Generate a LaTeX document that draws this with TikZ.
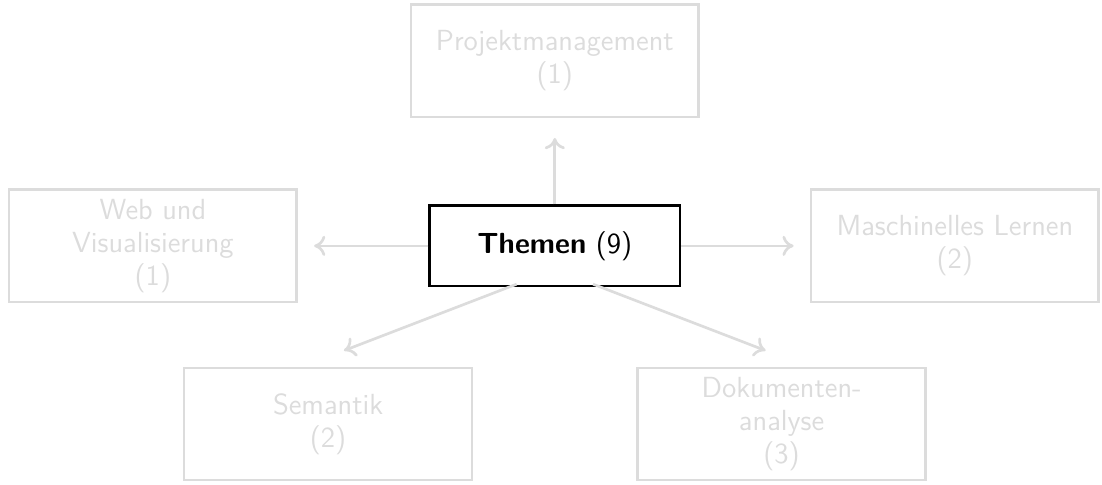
\documentclass[tikz,border=0pt]{standalone}
\usepackage{xcolor}
\usepackage{tikz}
\usetikzlibrary{positioning,arrows.meta,calc}
\definecolor{faded}{HTML}{DCDCDC}

\begin{document}
\begin{tikzpicture}[font=\sffamily\fontsize{13}{14.6}\selectfont,
        topic/.style={draw=faded,text=faded,line width=1.2pt,align=center,
          minimum width=4.52cm,minimum height=1.76cm,inner sep=2pt},
        hub/.style={draw=black,line width=1.2pt,align=center,
          minimum width=3.93cm,minimum height=1.26cm},
        link/.style={faded,line width=1.2pt,-{To[length=5pt,width=9pt]}}]
        \useasboundingbox (-8.71,-3.74) rectangle (8.59,3.86);
        \node[hub] (themen) at (0,0) {\textbf{Themen} (9)};
        \node[topic] (projekt) at (0,2.905) {Projektmanagement\\(1)};
        \node[topic] (web) at (-6.31,0) {Web und\\Visualisierung\\(1)};
        \node[topic] (ml) at (6.28,0) {Maschinelles Lernen\\(2)};
        \node[topic] (semantik) at (-3.56,-2.795) {Semantik\\(2)};
        \node[topic] (doku) at (3.56,-2.795) {Dokumenten-\\analyse\\(3)};
        \draw[link,shorten >=0.31cm] (themen.north) -- (projekt.south);
        \draw[link,shorten >=0.25cm] (themen.west) -- (web.east);
        \draw[link,shorten >=0.25cm] (themen.east) -- (ml.west);
        \draw[link] ($(themen.south)+(-0.6,0.05)$) -- ($(semantik.north)+(0.25,0.25)$);
        \draw[link] ($(themen.south)+(0.6,0.05)$) -- ($(doku.north)+(-0.25,0.25)$);
      \end{tikzpicture}
\end{document}
